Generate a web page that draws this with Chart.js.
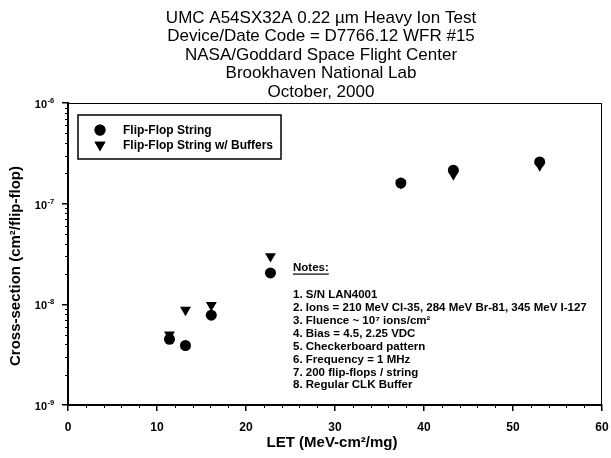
<!DOCTYPE html>
<html><head><meta charset="utf-8">
<script src="https://cdn.jsdelivr.net/npm/chart.js@4.4.0/dist/chart.umd.min.js"></script>
<style>html,body{margin:0;padding:0;background:#fff}#wrap{width:611px;height:458px}</style>
</head><body><div id="wrap"><canvas id="c" width="611" height="458"></canvas></div>
<script>
const titleLines = ["UMC A54SX32A 0.22 \u00b5m Heavy Ion Test","Device/Date Code = D7766.12 WFR #15","NASA/Goddard Space Flight Center","Brookhaven National Lab","October, 2000"];
const seriesNames = ["Flip-Flop String","Flip-Flop String w/ Buffers"];
const letValues = [11.4, 13.2, 16.1, 22.75, 37.4, 43.3, 53.0];
const ffString  = [4.5e-9, 3.9e-9, 7.8e-9, 2.05e-8, 1.6e-7, 2.15e-7, 2.6e-7];
const ffBuffers = [5.0e-9, 8.8e-9, 9.8e-9, 3.0e-8, 1.6e-7, 1.95e-7, 2.4e-7];
const xTicks = [0,10,20,30,40,50,60];
const yTicks = [1e-9,1e-8,1e-7,1e-6];
const yTickExps = ["-9","-8","-7","-6"];
const xAxisTitle = "LET (MeV-cm\u00b2/mg)";
const yAxisTitle = "Cross-section (cm\u00b2/flip-flop)";
const notesLines = ["1. S/N LAN4001","2. Ions = 210 MeV Cl-35, 284 MeV Br-81, 345 MeV I-127","3. Fluence ~ 10\u2077 ions/cm\u00b2","4. Bias = 4.5, 2.25 VDC","5. Checkerboard pattern","6. Frequency = 1 MHz","7. 200 flip-flops / string","8. Regular CLK Buffer"];

const FONT = "'Liberation Sans', Arial, sans-serif";

const extras = {
  id: 'extras',
  afterDraw(chart) {
    const ctx = chart.ctx, a = chart.chartArea;
    const xs = chart.scales.x, ys = chart.scales.y;
    ctx.save();
    ctx.strokeStyle = '#000';
    ctx.fillStyle = '#000';
    // title
    ctx.font = '17px ' + FONT;
    ctx.textAlign = 'center';
    ctx.textBaseline = 'middle';
    titleLines.forEach((t, i) => ctx.fillText(t, 321, 18 + i * 18.5));
    // frame top/right
    ctx.lineWidth = 1;
    ctx.beginPath();
    ctx.moveTo(a.left, a.top + 0.5); ctx.lineTo(a.right, a.top + 0.5);
    ctx.moveTo(a.right - 0.5, a.top); ctx.lineTo(a.right - 0.5, a.bottom);
    ctx.stroke();
    // minor ticks x
    ctx.beginPath();
    for (let v = 2; v < 60; v += 2) {
      if (v % 10 === 0) continue;
      const px = Math.round(xs.getPixelForValue(v)) + 0.5;
      ctx.moveTo(px, a.bottom); ctx.lineTo(px, a.bottom + 3);
    }
    // minor ticks y
    for (let k = -9; k < -6; k++) {
      for (let m = 2; m <= 9; m++) {
        const py = Math.round(ys.getPixelForValue(m * Math.pow(10, k))) + 0.5;
        ctx.moveTo(a.left - 3, py); ctx.lineTo(a.left, py);
      }
    }
    ctx.stroke();
    // y tick labels with superscript exponents
    ctx.textBaseline = 'middle';
    yTicks.forEach((v, i) => {
      const py = ys.getPixelForValue(v);
      ctx.font = 'bold 11px ' + FONT;
      ctx.textAlign = 'right';
      ctx.fillText('10', 47, py + 2);
      ctx.font = 'bold 7.5px ' + FONT;
      ctx.textAlign = 'left';
      ctx.fillText(yTickExps[i], 47.5, py - 2);
    });
    // axis titles
    ctx.font = 'bold 15px ' + FONT;
    ctx.textAlign = 'center';
    ctx.fillText(xAxisTitle, 332, 443);
    ctx.save();
    ctx.translate(16, 266);
    ctx.rotate(-Math.PI / 2);
    ctx.fillText(yAxisTitle, 0, 0);
    ctx.restore();
    // legend
    const lx = 78, ly = 115, lw = 203, lh = 44;
    ctx.lineWidth = 1.5;
    ctx.strokeRect(lx, ly, lw, lh);
    ctx.font = 'bold 12px ' + FONT;
    ctx.textAlign = 'left';
    ctx.textBaseline = 'middle';
    const rows = [130, 145];
    seriesNames.forEach((name, i) => {
      const ds = chart.data.datasets.find(d => d.label === name);
      Chart.helpers.drawPoint(ctx, {pointStyle: ds.pointStyle, radius: ds.pointRadius, rotation: ds.rotation || 0, borderWidth: 0}, 100, rows[i]);
      ctx.fill();
      ctx.fillText(name, 123, rows[i] + 0.5);
    });
    // notes
    ctx.font = 'bold 11.5px ' + FONT;
    const nx = 293;
    ctx.fillText('Notes:', nx, 268);
    const w = ctx.measureText('Notes:').width;
    ctx.fillRect(nx, 273.5, w, 1.2);
    notesLines.forEach((t, i) => ctx.fillText(t, nx, 295 + i * 12.9));
    ctx.restore();
  }
};

new Chart(document.getElementById('c'), {
  type: 'scatter',
  data: {
    datasets: [
      { label: seriesNames[1], data: letValues.map((x, i) => ({x, y: ffBuffers[i]})),
        pointStyle: 'triangle', rotation: 180, pointRadius: 6.3, backgroundColor: '#000', borderColor: '#000', borderWidth: 0, order: 2 },
      { label: seriesNames[0], data: letValues.map((x, i) => ({x, y: ffString[i]})),
        pointStyle: 'circle', pointRadius: 5.5, backgroundColor: '#000', borderColor: '#000', borderWidth: 0, order: 1 }
    ]
  },
  options: {
    responsive: false, animation: false,
    layout: { padding: { left: 0, right: 9, top: 103, bottom: 0 } },
    plugins: {
      legend: { display: false },
      tooltip: { enabled: false },
      title: { display: false }
    },
    scales: {
      x: {
        type: 'linear', min: 0, max: 60,
        afterBuildTicks: s => { s.ticks = xTicks.map(v => ({value: v})); },
        afterFit: s => { s.height = 53; s.paddingLeft = 0; s.paddingRight = 0; },
        ticks: { color: '#000', font: { family: FONT, size: 12, weight: 'bold' }, padding: 9, maxRotation: 0 },
        grid: { drawOnChartArea: false, drawTicks: true, tickLength: 6, color: '#000', lineWidth: 1.5 },
        border: { display: true, color: '#000', width: 2 }
      },
      y: {
        type: 'logarithmic', min: 1e-9, max: 1e-6,
        afterBuildTicks: s => { s.ticks = yTicks.map(v => ({value: v})); },
        afterFit: s => { s.width = 68; s.paddingTop = 0; s.paddingBottom = 0; },
        ticks: { display: false },
        grid: { drawOnChartArea: false, drawTicks: true, tickLength: 6, color: '#000', lineWidth: 1.5 },
        border: { display: true, color: '#000', width: 2 }
      }
    }
  },
  plugins: [extras]
});
</script></body></html>
